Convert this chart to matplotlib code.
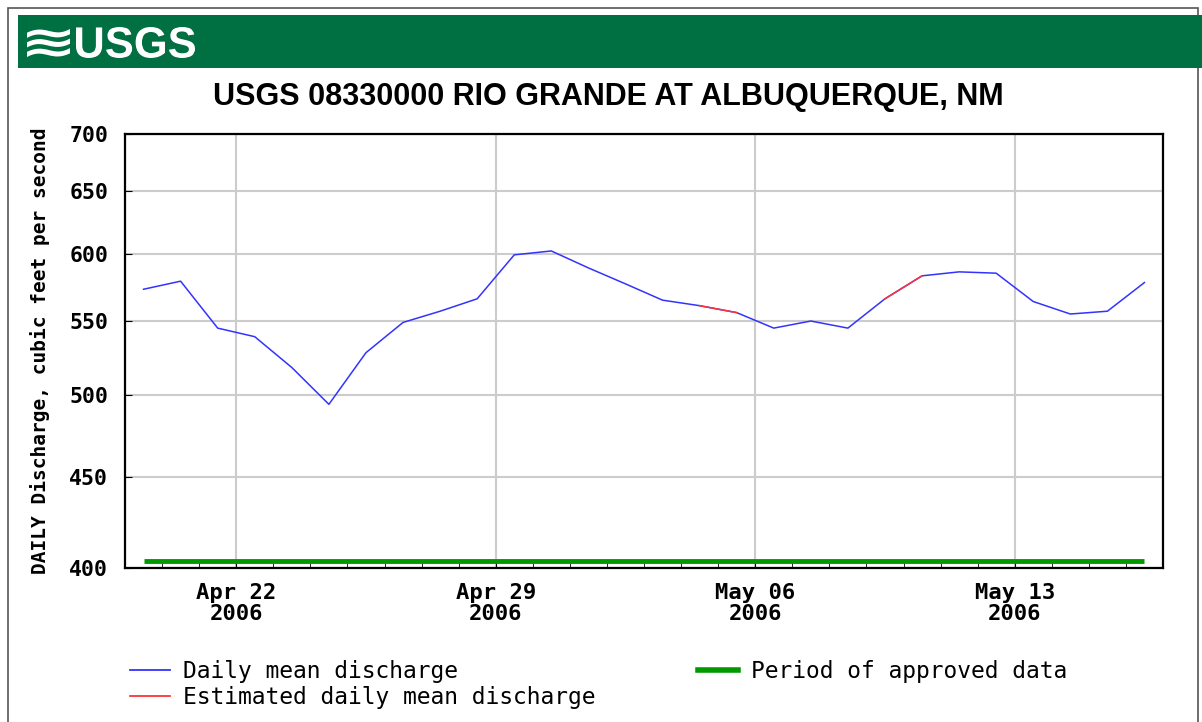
import matplotlib
matplotlib.use('Agg')
import matplotlib.pyplot as plt
import matplotlib.dates as mdates
import matplotlib.ticker as mticker
import matplotlib.transforms as mtransforms
from matplotlib.lines import Line2D
from matplotlib.patches import Rectangle, PathPatch
from matplotlib.textpath import TextPath
from matplotlib.font_manager import FontProperties
import numpy as np
import pandas as pd

# daily means, plotted at noon of each day
dates = pd.date_range('2006-04-19 12:00', '2006-05-16 12:00', freq='D')
discharge = [573, 579, 545, 539, 518, 494, 528, 549, 557, 566, 599, 602,
             589, 577, 565, 561, 556, 545, 550, 545, 566, 583, 586, 585,
             564, 555, 557, 578]
estimated_days = ['2006-05-05', '2006-05-10']
approved_period = ['2006-04-19 12:00', '2006-05-16 12:00']
yticks = [400, 450, 500, 550, 600, 650, 700]
xlabel_days = ['2006-04-22', '2006-04-29', '2006-05-06', '2006-05-13']
title = 'USGS 08330000 RIO GRANDE AT ALBUQUERQUE, NM'
ylabel = 'DAILY Discharge, cubic feet per second'

blue = '#3333ff'
red = '#ff3333'
green = '#009900'
mono = 'DejaVu Sans Mono'
W, H = 1202, 722

# red segment: previous day -> estimated day
est = np.full(len(discharge), np.nan)
day_str = [d.strftime('%Y-%m-%d') for d in dates]
for d in estimated_days:
    i = day_str.index(d)
    est[i - 1] = discharge[i - 1]
    est[i] = discharge[i]

fig = plt.figure(figsize=(W / 100, H / 100), dpi=100)
ax = fig.add_axes([125 / W, 1 - 568 / H, (1163 - 125) / W, (568 - 134) / H])


def fit_text(s, x0, y0, x1, y1, family, weight='bold'):
    # text squeezed into a pixel box (top-left origin)
    tp = TextPath((0, 0), s, size=50, prop=FontProperties(family=family, weight=weight))
    ext = tp.get_extents()
    tr = (mtransforms.Affine2D()
          .translate(-ext.x0, -ext.y0)
          .scale((x1 - x0) / ext.width, (y1 - y0) / ext.height)
          .translate(x0, H - y1))
    fig.patches.append(PathPatch(tr.transform_path(tp), facecolor='white',
                                 edgecolor='none',
                                 transform=mtransforms.IdentityTransform()))


# page frame + banner
fig.patches.append(Rectangle((8 / W, -0.05), 1190 / W, 1.05 - 8 / H,
                             transform=fig.transFigure, fill=False,
                             edgecolor='#555555', lw=1.2))
fig.patches.append(Rectangle((18 / W, 1 - 68 / H), 1.0, 53 / H,
                             transform=fig.transFigure, facecolor='#006f41',
                             edgecolor='none'))
fit_text('\u224b', 27, 29, 70, 57, 'DejaVu Sans')
fit_text('USGS', 76, 27, 195, 58, 'Liberation Sans')
fig.text(608 / W, 1 - 97 / H, title, fontsize=22, fontweight='bold',
         ha='center', va='center', family='Liberation Sans')

ax.plot(dates, discharge, color=blue, lw=1.1, label='Daily mean discharge')
ax.plot(dates, est, color=red, lw=1.1, label='Estimated daily mean discharge')
trans = mtransforms.blended_transform_factory(ax.transData, ax.transAxes)
ax.plot(pd.to_datetime(approved_period), [0.016, 0.016], color=green, lw=3.5,
        transform=trans, solid_capstyle='butt', label='Period of approved data')

ax.set_yscale('log')
ax.set_ylim(400, 700)
ax.yaxis.set_major_locator(mticker.FixedLocator(yticks))
ax.yaxis.set_major_formatter(mticker.FixedFormatter([str(v) for v in yticks]))
ax.yaxis.set_minor_locator(mticker.NullLocator())

ax.set_xlim(pd.Timestamp('2006-04-19'), pd.Timestamp('2006-05-17'))
ax.xaxis.set_major_locator(mticker.FixedLocator(mdates.date2num(pd.to_datetime(xlabel_days))))
ax.xaxis.set_major_formatter(mdates.DateFormatter('%b %d\n%Y'))
ax.xaxis.set_minor_locator(mdates.DayLocator())

ax.grid(True, which='major', color='#cccccc', lw=1.5)
ax.tick_params(axis='both', which='both', direction='in', color='black')
ax.tick_params(axis='y', length=5, pad=12)
ax.tick_params(axis='x', which='major', length=5, pad=11)
ax.tick_params(axis='x', which='minor', length=4)
for lab in ax.get_yticklabels():
    lab.set_family(mono)
    lab.set_fontweight('bold')
    lab.set_fontsize(15.5)
for lab in ax.get_xticklabels():
    lab.set_family(mono)
    lab.set_fontweight('bold')
    lab.set_fontsize(16)
    lab.set_linespacing(1.05)
for s in ax.spines.values():
    s.set_linewidth(1.6)

ax.set_ylabel(ylabel, family=mono, fontsize=14, fontweight='semibold', labelpad=14)

handles = [Line2D([], [], color=blue, lw=1.3),
           Line2D([], [], color=red, lw=1.3),
           Line2D([], [], color=green, lw=4)]
labels = ['Daily mean discharge', 'Estimated daily mean discharge',
          'Period of approved data']
fig.legend(handles, labels, loc='upper left', ncol=2, frameon=False,
           bbox_to_anchor=(130 / W, 1 - 660 / H), borderaxespad=0,
           borderpad=0, prop={'family': mono, 'size': 16.5},
           handlelength=1.75, handletextpad=0.55, columnspacing=4.5,
           labelspacing=0.15)

fig.savefig('out.png', dpi=100)
